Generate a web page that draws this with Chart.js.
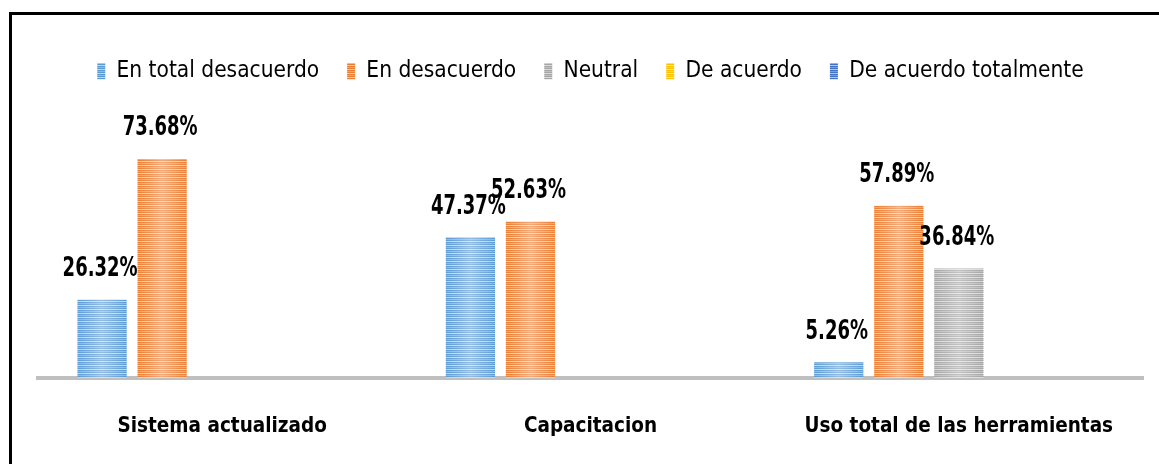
<!DOCTYPE html>
<html>
<head>
<meta charset="utf-8">
<script src="https://cdn.jsdelivr.net/npm/chart.js@4/dist/chart.umd.min.js"></script>
<style>
  html, body { margin: 0; padding: 0; background: #fff; }
  #wrap { width: 1159px; height: 464px; position: relative; }
</style>
</head>
<body>
<div id="wrap"><canvas id="chart" width="1159" height="464"></canvas></div>
<script>
"use strict";

const categories = ["Sistema actualizado", "Capacitacion", "Uso total de las herramientas"];
const seriesNames = ["En total desacuerdo", "En desacuerdo", "Neutral", "De acuerdo", "De acuerdo totalmente"];
const totalDesacuerdo = [26.32, 47.37, 5.26];
const enDesacuerdo = [73.68, 52.63, 57.89];
const neutral = [null, null, 36.84];
const deAcuerdo = [null, null, null];
const deAcuerdoTotal = [null, null, null];
const seriesColors = ["#5b9bd5", "#ed7d31", "#a5a5a5", "#ffc000", "#4472c4"];

const FONT = "'Liberation Sans Narrow', 'DejaVu Sans Condensed', 'Arial Narrow', sans-serif";

// striped fill like the excel pattern
function stripes(color) {
  let c = document.createElement("canvas");
  c.width = 4;
  c.height = 4;
  let g = c.getContext("2d");
  g.fillStyle = color;
  g.fillRect(0, 0, 4, 4);
  g.fillStyle = "rgba(255,255,255,0.6)";
  g.fillRect(0, 1, 4, 1);
  g.fillStyle = "rgba(255,255,255,0.3)";
  g.fillRect(0, 3, 4, 1);
  return g.createPattern(c, "repeat");
}

const values = [totalDesacuerdo, enDesacuerdo, neutral, deAcuerdo, deAcuerdoTotal];
const datasets = seriesNames.map(function(name, i) {
  return {
    label: name,
    data: values[i],
    backgroundColor: stripes(seriesColors[i]),
    borderWidth: 0,
    categoryPercentage: 0.815,
    barPercentage: 0.82
  };
});

const frame = {
  id: "frame",
  beforeDraw(chart) {
    let ctx = chart.ctx;
    ctx.save();
    ctx.fillStyle = "#fff";
    ctx.fillRect(0, 0, chart.width, chart.height);
    ctx.strokeStyle = "#000";
    ctx.lineWidth = 3;
    ctx.beginPath();
    ctx.moveTo(10.5, chart.height + 5);
    ctx.lineTo(10.5, 13.5);
    ctx.lineTo(chart.width + 5, 13.5);
    ctx.stroke();
    ctx.restore();
  }
};

// soft light band down the middle of each bar
const shine = {
  id: "shine",
  afterDatasetsDraw(chart) {
    let ctx = chart.ctx;
    ctx.save();
    chart.data.datasets.forEach(function(ds, i) {
      chart.getDatasetMeta(i).data.forEach(function(bar, j) {
        if (ds.data[j] == null) return;
        let left = bar.x - bar.width / 2;
        let g = ctx.createLinearGradient(left, 0, left + bar.width, 0);
        g.addColorStop(0, "rgba(255,255,255,0)");
        g.addColorStop(0.5, "rgba(255,255,255,0.35)");
        g.addColorStop(1, "rgba(255,255,255,0)");
        ctx.fillStyle = g;
        ctx.fillRect(left, bar.y, bar.width, bar.base - bar.y);
      });
    });
    ctx.restore();
  }
};

// value labels, a bit stretched up like the tall font in the original
const valueLabels = {
  id: "valueLabels",
  afterDatasetsDraw(chart) {
    let ctx = chart.ctx;
    chart.data.datasets.forEach(function(ds, i) {
      chart.getDatasetMeta(i).data.forEach(function(bar, j) {
        let v = ds.data[j];
        if (v == null) return;
        ctx.save();
        ctx.translate(bar.x - 2, bar.y - 17);
        ctx.scale(1, 1.35);
        ctx.font = "bold 20px " + FONT;
        ctx.fillStyle = "#000";
        ctx.textAlign = "center";
        ctx.textBaseline = "bottom";
        ctx.fillText(v.toFixed(2) + "%", 0, 0);
        ctx.restore();
      });
    });
  }
};

new Chart(document.getElementById("chart"), {
  type: "bar",
  data: { labels: categories, datasets: datasets },
  options: {
    responsive: false,
    animation: false,
    layout: { padding: { left: 38, right: 16, top: 32, bottom: 0 } },
    plugins: {
      legend: {
        position: "top",
        labels: {
          boxWidth: 8,
          boxHeight: 16,
          padding: 28,
          color: "#000",
          font: { family: FONT, size: 22.5 }
        }
      },
      tooltip: { enabled: false }
    },
    scales: {
      x: {
        grid: { display: false, drawTicks: false },
        border: { color: "#bfbfbf", width: 4 },
        afterFit: function(scale) { scale.height = 86; },
        ticks: {
          color: "#000",
          padding: 36,
          font: { family: FONT, size: 20.5, weight: "bold" }
        }
      },
      y: {
        display: false,
        min: 0,
        max: 96
      }
    }
  },
  plugins: [frame, shine, valueLabels]
});
</script>
</body>
</html>
